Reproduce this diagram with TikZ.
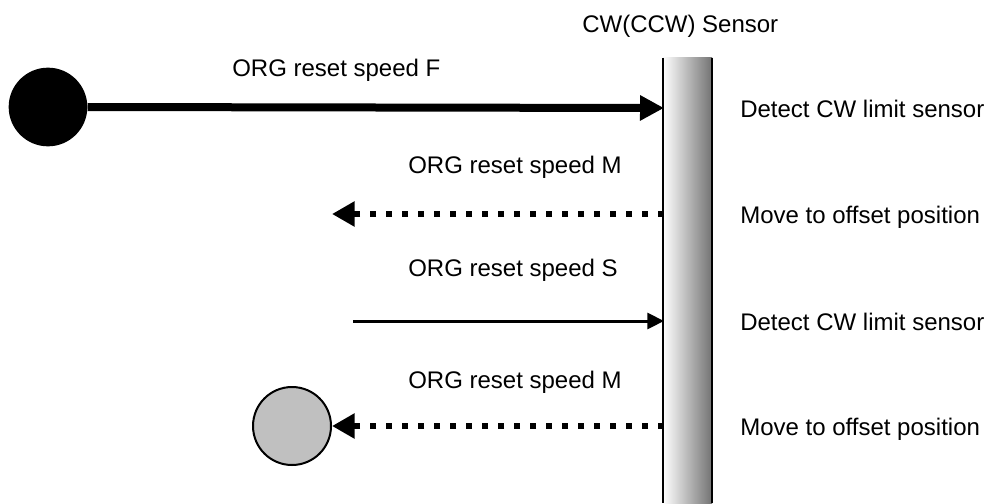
\documentclass[tikz,border=0pt]{standalone}
\usepackage{fontspec}
\setmainfont{Liberation Sans}
\usetikzlibrary{arrows.meta,positioning,calc}
\definecolor{ink}{HTML}{000000}
\definecolor{ballgray}{HTML}{C0C0C0}
\tikzset{
  txt/.style={anchor=base west,inner sep=0pt,text=ink,
              font=\fontsize{18}{21}\selectfont},
  sensorbar/.style={shade,left color=white,middle color=black!18,
                    right color=black!55,minimum width=36.75pt,
                    minimum height=333.75pt,inner sep=0pt},
  fastarr/.style={-{Triangle[length=18pt,width=18pt]},line width=6pt,
                  draw=ink},
  midarr/.style={-{Triangle[length=17pt,width=18pt]},line width=4.5pt,
                 dash pattern=on 4.5pt off 7.5pt,draw=ink},
  slowarr/.style={-{Triangle[length=12.5pt,width=12pt]},line width=2.25pt,
                  draw=ink},
  startball/.style={circle,fill=ink,minimum size=59pt,inner sep=0pt},
  endball/.style={circle,draw=ink,line width=1.5pt,fill=ballgray,
                  minimum size=58.5pt,inner sep=0pt}
}
\begin{document}
\begin{tikzpicture}[x=0.75pt,y=-0.75pt]
    \path[use as bounding box] (0,0) rectangle (1002,503);
    % sensor
    \node[sensorbar] (sensor) at (687.5,280.5) {};
    \draw[line width=1.5pt,draw=ink] (sensor.north west) -- (sensor.south west)
      (sensor.north east) -- (sensor.south east);
    \node[txt] (sensorname) at (582,33) {CW(CCW) Sensor};
    % hit points on the sensor
    \coordinate (hitF) at (664,108);
    \coordinate (backA) at (664,214);
    \coordinate (hitS) at (664,321);
    \coordinate (backB) at (664,426);
    \coordinate (turnA) at (332,214);
    \coordinate (slowstart) at (353,321);
    % balls
    \node[startball] (ballF) at (48,107) {};
    \node[endball] (ballEnd) at (292,426) {};
    % moves
    \draw[fastarr] (ballF.east) -- (hitF);
    \draw[midarr] (backA) -- (turnA);
    \draw[slowarr] (slowstart) -- (hitS);
    \draw[midarr] (backB) -- (ballEnd.east);
    % speeds
    \node[txt] (speedF) at (232,77) {ORG reset speed F};
    \node[txt] (speedM) at (408,173) {ORG reset speed M};
    \node[txt] (speedS) at (408,276) {ORG reset speed S};
    \node[txt] (speedMb) at (408,388) {ORG reset speed M};
    % steps
    \node[txt] (stepA) at (740,117) {Detect CW limit sensor};
    \node[txt] (stepB) at (740,223) {Move to offset position};
    \node[txt] (stepC) at (740,330) {Detect CW limit sensor};
    \node[txt] (stepD) at (740,435) {Move to offset position};
\end{tikzpicture}
\end{document}
